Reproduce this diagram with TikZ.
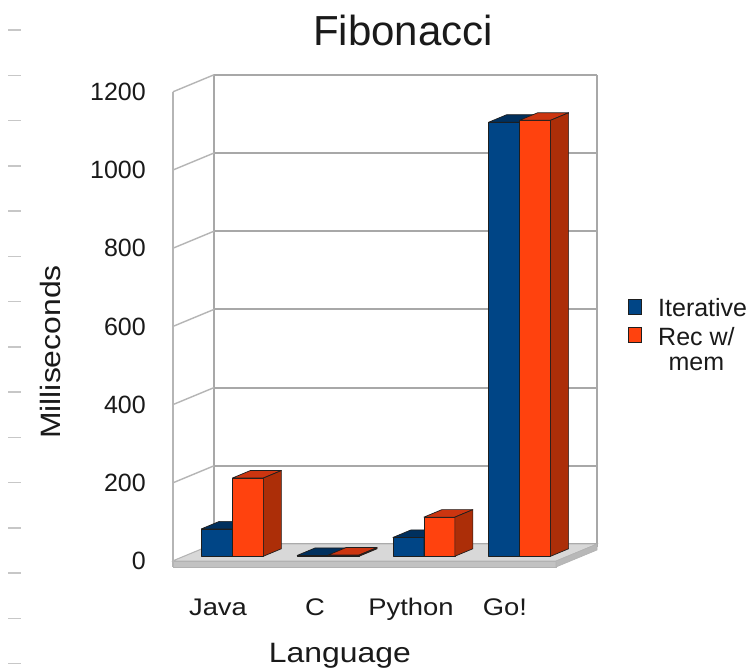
\documentclass[tikz,border=0pt]{standalone}
\usepackage{fontspec}
\setmainfont{Liberation Sans}
\newfontfamily\widefont[FakeStretch=1.14]{Liberation Sans}
\definecolor{bluefront}{HTML}{004586}
\definecolor{bluetop}{HTML}{00305E}
\definecolor{blueside}{HTML}{003468}
\definecolor{redfront}{HTML}{FF420E}
\definecolor{redtop}{HTML}{CC3510}
\definecolor{redside}{HTML}{AC2E08}
\definecolor{gridgray}{HTML}{A8A8A8}
\definecolor{floortop}{HTML}{D8D8D8}
\definecolor{floorfront}{HTML}{C2C2C2}
\definecolor{floorside}{HTML}{B8B8B8}
\definecolor{barline}{HTML}{1E1E1E}
\definecolor{txt}{HTML}{1A1A1A}
\newcommand\drawbar[5]{%
  \pgfmathsetmacro\ua{173+#1+41*0.28}%
  \pgfmathsetmacro\ub{\ua+31}%
  \pgfmathsetmacro\ya{561-17*0.28}%
  \pgfmathsetmacro\yt{\ya-0.391*#2}%
  \pgfmathsetmacro\hh{0.391*#2}%
  \filldraw[fill=#3,draw=barline,line width=0.7pt,line join=round] (\ua,\ya) rectangle (\ub,\yt);
  \filldraw[fill=#4,draw=barline,line width=0.7pt,line join=round] (\ua,\yt) -- ++(18,-7.5) -- ++(31,0) -- (\ub,\yt) -- cycle;
  \filldraw[fill=#5,draw=barline,line width=0.7pt,line join=round] (\ub,\ya) -- (\ub,\yt) -- ++(18,-7.5) -- ++(0,\hh) -- cycle;
}
\begin{document}
\begin{tikzpicture}[x=1pt,y=-1pt,
  backgrid/.style={draw=gridgray,line width=2pt},
  sidegrid/.style={draw=gridgray!85,line width=1.4pt},
  tick/.style={font=\fontsize{25}{25}\selectfont,text=txt,inner sep=0pt},
  catlabel/.style={font=\widefont\fontsize{24}{24}\selectfont,text=txt,inner sep=0pt,anchor=base},
  axtitle/.style={font=\widefont\fontsize{28}{28}\selectfont,text=txt,inner sep=0pt},
  legtext/.style={font=\fontsize{25}{25}\selectfont,text=txt,inner sep=0pt},
  legbox/.style={draw=barline,line width=0.8pt}]
\useasboundingbox (0,0) rectangle (756,670);
\fill[white] (0,0) rectangle (756,670);
% left margin dashes
\foreach \k in {0,...,14}{
  \draw[draw=black!22,line width=1.5pt] (8,{30+45.25*\k}) -- (21,{30+45.25*\k});
}
% title
\node[font=\fontsize{42}{42}\selectfont,text=txt,anchor=base,inner sep=0pt] (title) at (403,45) {Fibonacci};
% back wall
\draw[backgrid] (214,75) -- (214,544);
\draw[backgrid] (597,75) -- (597,547);
\foreach \v in {0,200,...,1200}{
  \pgfmathsetmacro\yy{561-0.391*\v}
  \draw[sidegrid] (173,\yy) -- (214,\yy-17);
  \draw[backgrid] (214,\yy-17) -- (597,\yy-17);
  \node[tick,anchor=east] (t\v) at (146,\yy) {\v};
}
% floor
\filldraw[fill=floortop,draw=black!30,line width=0.6pt] (173,561) -- (556,561) -- (597,544) -- (214,544) -- cycle;
\filldraw[fill=floorfront,draw=black!30,line width=0.6pt] (173,561) -- (556,561) -- (556,567) -- (173,567) -- cycle;
\filldraw[fill=floorside,draw=black!30,line width=0.6pt] (556,561) -- (597,544) -- (597,550) -- (556,567) -- cycle;
% left wall front edge
\draw[sidegrid] (173,92) -- (173,567);
% bars
\drawbar{16.9}{70}{bluefront}{bluetop}{blueside}
\drawbar{47.9}{200}{redfront}{redtop}{redside}
\drawbar{112.65}{2}{bluefront}{bluetop}{blueside}
\drawbar{143.65}{3}{redfront}{redtop}{redside}
\drawbar{208.4}{48}{bluefront}{bluetop}{blueside}
\drawbar{239.4}{100}{redfront}{redtop}{redside}
\drawbar{304.15}{1110}{bluefront}{bluetop}{blueside}
\drawbar{335.15}{1115}{redfront}{redtop}{redside}
% category labels
\node[catlabel] (java) at (218,615) {Java};
\node[catlabel] (c) at (315,615) {C};
\node[catlabel] (python) at (411,615) {Python};
\node[catlabel] (go) at (505,615) {Go!};
% axis titles
\node[axtitle,anchor=base] (xtitle) at (340,662) {Language};
\node[axtitle,rotate=90] (ytitle) at (50,352) {Milliseconds};
% legend
\filldraw[legbox,fill=bluefront] (628,299) rectangle (641,314);
\filldraw[legbox,fill=redfront] (628,327) rectangle (641,342);
\node[legtext,anchor=base west] (iter) at (658,316) {Iterative};
\node[legtext,anchor=base west] (recw) at (658,345) {Rec w/};
\node[legtext,anchor=base] (mem) at ([yshift=-25pt]recw.base) {mem};
\end{tikzpicture}
\end{document}
